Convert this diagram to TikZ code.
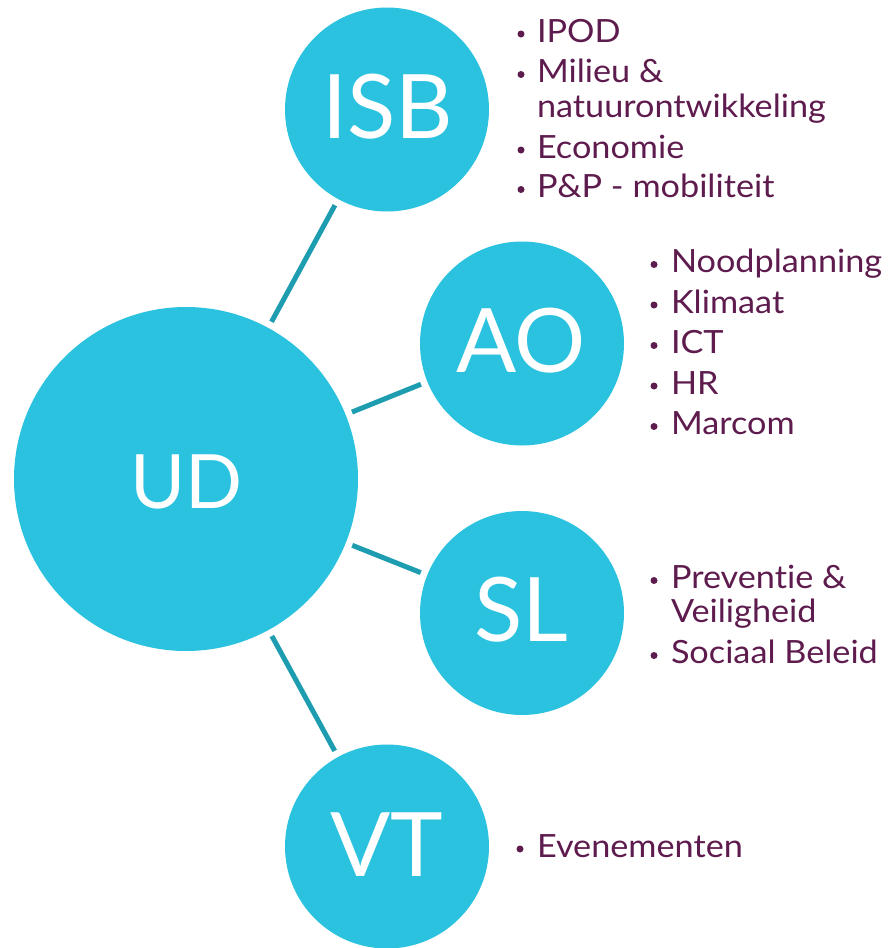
\documentclass[tikz,border=0pt]{standalone}
\usepackage{fontspec}
\setmainfont{Lato}[Ligatures=NoCommon]
\newfontfamily\itemfont{Lato}[FakeStretch=1.07, Ligatures=NoCommon]
\definecolor{bubble}{HTML}{2AC2DF}
\definecolor{link}{HTML}{1E9DB0}
\definecolor{plum}{HTML}{5E1B4E}
\tikzset{
  bubble/.style={circle, fill=bubble, inner sep=0pt, outer sep=0pt, text=white},
  biglabel/.style={inner sep=0pt, outer sep=0pt, anchor=base, text=white, font=\fontsize{89}{89}\selectfont},
  item/.style={inner sep=0pt, outer sep=0pt, anchor=base west, text=plum, font=\itemfont\fontsize{32}{32}\selectfont},
  dotmark/.style={circle, fill=plum, inner sep=0pt, outer sep=0pt, minimum size=7pt},
  conn/.style={draw=link, line width=5pt, shorten >=7pt, shorten <=7pt}
}
\begin{document}
\begin{tikzpicture}[x=1pt,y=-1pt]
\useasboundingbox (0,0) rectangle (892,948);
% circles
\node[bubble, minimum size=344pt] (UD) at (186,479) {};
\node[bubble, minimum size=204pt] (ISB) at (387,109.5) {};
\node[bubble, minimum size=204pt] (AO) at (522,343.5) {};
\node[bubble, minimum size=204pt] (SL) at (522,613) {};
\node[bubble, minimum size=204pt] (VT) at (387,846.5) {};
% labels
\node[biglabel, font=\fontsize{75}{75}\selectfont] (tUD) at (186.5,508) {UD};
\node[biglabel] (tISB) at (388,138) {ISB};
\node[biglabel] (tAO) at (521,372) {AO};
\node[biglabel] (tSL) at (521,641.5) {SL};
\node[biglabel] (tVT) at (387,876.5) {VT};
% connectors
\draw[conn] (UD) -- (ISB);
\draw[conn] (UD) -- (AO);
\draw[conn] (UD) -- (SL);
\draw[conn] (UD) -- (VT);
% ISB list
\node[dotmark] (d1) at (521,34) {};
\node[item] (i1) at (537,42) {IPOD};
\node[dotmark] (d2) at (521,74.5) {};
\node[item] (i2) at (537,82.5) {Milieu \&};
\node[item] (i3) at (537,117.5) {natuurontwikkeling};
\node[dotmark] (d3) at (521,150) {};
\node[item] (i4) at (537,158) {Economie};
\node[dotmark] (d4) at (521,189.5) {};
\node[item] (i5) at (537,197.5) {P\&P - mobiliteit};
% AO list
\node[dotmark] (d5) at (654,264.5) {};
\node[item] (a1) at (671,272.5) {Noodplanning};
\node[dotmark] (d6) at (654,305) {};
\node[item] (a2) at (671,313) {Klimaat};
\node[dotmark] (d7) at (654,345.5) {};
\node[item] (a3) at (671,353.5) {ICT};
\node[dotmark] (d8) at (654,386) {};
\node[item] (a4) at (671,394) {HR};
\node[dotmark] (d9) at (654,426.5) {};
\node[item] (a5) at (671,434.5) {Marcom};
% SL list
\node[dotmark] (d10) at (654,580.5) {};
\node[item] (s1) at (671,588.5) {Preventie \&};
\node[item] (s2) at (671,622) {Veiligheid};
\node[dotmark] (d11) at (654,655.5) {};
\node[item] (s3) at (671,663.5) {Sociaal Beleid};
% VT list
\node[dotmark] (d12) at (520,849) {};
\node[item] (v1) at (537,857) {Evenementen};
\end{tikzpicture}
\end{document}
